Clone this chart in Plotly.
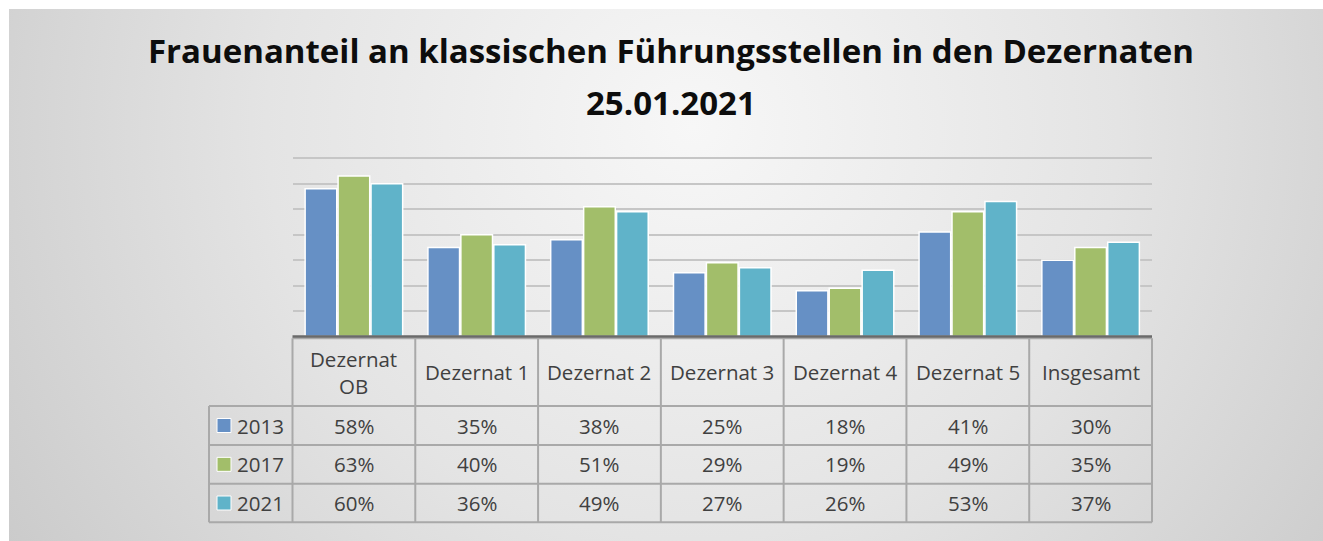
import base64
import plotly.graph_objects as go

# ---- data ----
categories = ["Dezernat<br>OB", "Dezernat 1", "Dezernat 2", "Dezernat 3", "Dezernat 4", "Dezernat 5", "Insgesamt"]
years = ["2013", "2017", "2021"]
values_2013 = [58, 35, 38, 25, 18, 41, 30]
values_2017 = [63, 40, 51, 29, 19, 49, 35]
values_2021 = [60, 36, 49, 27, 26, 53, 37]
series = [values_2013, values_2017, values_2021]
colors = ["#6690c5", "#a2be6a", "#60b3c9"]
title_line1 = "Frauenanteil an klassischen Führungsstellen in den Dezernaten"
title_line2 = "25.01.2021"

W, H = 1323, 541


def px(x):
    return x / W


def py(y):
    return 1 - y / H


# layout geometry (pixels)
plot_left, plot_right = 292.5, 1152
plot_top, plot_bottom = 158.3, 336.5
y_max = 70.6
table_left = 209
row_lines = [338.3, 406, 445, 483.7, 522.3]
col_w = (plot_right - plot_left) / len(categories)
dom_top = plot_bottom - y_max * (plot_bottom - plot_top) / 70

fig = go.Figure()
for name, vals, col in zip(years, series, colors):
    fig.add_trace(go.Bar(
        x=list(range(len(categories))), y=vals, name=name,
        marker=dict(color=col, line=dict(color="white", width=1.5)),
        showlegend=False, hoverinfo="skip",
    ))

# background gradient (svg data uri)
svg = f'''<svg xmlns="http://www.w3.org/2000/svg" width="{W-9}" height="{H-9}">
<defs><radialGradient id="g" cx="0.52" cy="0.22" r="0.72" gradientUnits="objectBoundingBox" gradientTransform="translate(0.52,0.22) scale(1,2.4) translate(-0.52,-0.22)">
<stop offset="0" stop-color="#f7f7f7"/><stop offset="0.45" stop-color="#e4e4e4"/><stop offset="1" stop-color="#c2c2c2"/></radialGradient></defs>
<rect width="100%" height="100%" fill="url(#g)"/></svg>'''
src = "data:image/svg+xml;base64," + base64.b64encode(svg.encode()).decode()

shapes = []
line_col = "#a9a9a9"
# vertical column lines
for i in range(len(categories) + 1):
    x = plot_left + i * col_w
    shapes.append(dict(type="line", xref="paper", yref="paper", x0=px(x), x1=px(x),
                       y0=py(row_lines[0]), y1=py(row_lines[-1]), line=dict(color=line_col, width=2)))
# left vertical for legend column
shapes.append(dict(type="line", xref="paper", yref="paper", x0=px(table_left), x1=px(table_left),
                   y0=py(row_lines[1]), y1=py(row_lines[-1]), line=dict(color=line_col, width=2)))
# header top line
shapes.append(dict(type="line", xref="paper", yref="paper", x0=px(plot_left), x1=px(plot_right),
                   y0=py(row_lines[0]), y1=py(row_lines[0]), line=dict(color=line_col, width=2)))
for y in row_lines[1:]:
    shapes.append(dict(type="line", xref="paper", yref="paper", x0=px(table_left), x1=px(plot_right),
                       y0=py(y), y1=py(y), line=dict(color=line_col, width=2)))
# axis baseline
shapes.append(dict(type="line", xref="paper", yref="paper", x0=px(plot_left), x1=px(plot_right),
                   y0=py(plot_bottom), y1=py(plot_bottom), line=dict(color="#6a6a6a", width=2.5)))
# legend keys
for r, col in enumerate(colors):
    yc = (row_lines[r + 1] + row_lines[r + 2]) / 2
    shapes.append(dict(type="rect", xref="paper", yref="paper", x0=px(217), x1=px(231),
                       y0=py(yc - 7), y1=py(yc + 7), fillcolor=col, line=dict(color="white", width=1)))

annotations = []
txt_col = "#404040"
tfont = dict(family="'Open Sans', sans-serif", size=20.5, color=txt_col)
for i, cat in enumerate(categories):
    xc = plot_left + (i + 0.5) * col_w
    annotations.append(dict(xref="paper", yref="paper", x=px(xc), y=py((row_lines[0] + row_lines[1]) / 2),
                            text=cat, showarrow=False, font=tfont, xanchor="center", yanchor="middle"))
    for r, vals in enumerate(series):
        yc = (row_lines[r + 1] + row_lines[r + 2]) / 2
        annotations.append(dict(xref="paper", yref="paper", x=px(xc), y=py(yc),
                                text=f"{vals[i]}%", showarrow=False, font=tfont,
                                xanchor="center", yanchor="middle"))
for r, yr in enumerate(years):
    yc = (row_lines[r + 1] + row_lines[r + 2]) / 2
    annotations.append(dict(xref="paper", yref="paper", x=px(235), y=py(yc), text=yr, showarrow=False,
                            font=tfont, xanchor="left", yanchor="middle"))

title_font = dict(family="'Open Sans', sans-serif", size=33, color="#0d0d0d", weight=700)
annotations.append(dict(xref="paper", yref="paper", x=px(671), y=py(50), text=title_line1,
                        showarrow=False, font=title_font, xanchor="center", yanchor="middle"))
annotations.append(dict(xref="paper", yref="paper", x=px(671), y=py(103), text=title_line2,
                        showarrow=False, font=title_font, xanchor="center", yanchor="middle"))

fig.update_layout(
    width=W, height=H, margin=dict(l=0, r=0, t=0, b=0),
    paper_bgcolor="white", plot_bgcolor="rgba(0,0,0,0)",
    barmode="group", bargap=0.195, bargroupgap=0.04,
    xaxis=dict(domain=[px(plot_left), px(plot_right)], range=[-0.5, len(categories) - 0.5],
               showticklabels=False, showgrid=False, zeroline=False, ticks=""),
    yaxis=dict(domain=[py(plot_bottom), py(dom_top)], range=[0, y_max], dtick=10,
               showticklabels=False, showgrid=True, gridcolor="#c6c6c6", gridwidth=2,
               zeroline=False, ticks=""),
    shapes=shapes, annotations=annotations,
    images=[dict(source=src, xref="paper", yref="paper", x=px(9), y=py(9), sizex=px(W - 9),
                 sizey=(H - 9) / H, xanchor="left", yanchor="top", sizing="stretch", layer="below")],
)

fig.write_html("out.html", config={"displayModeBar": False},
               post_script="document.body.style.margin='0px';document.body.style.overflow='hidden';")
